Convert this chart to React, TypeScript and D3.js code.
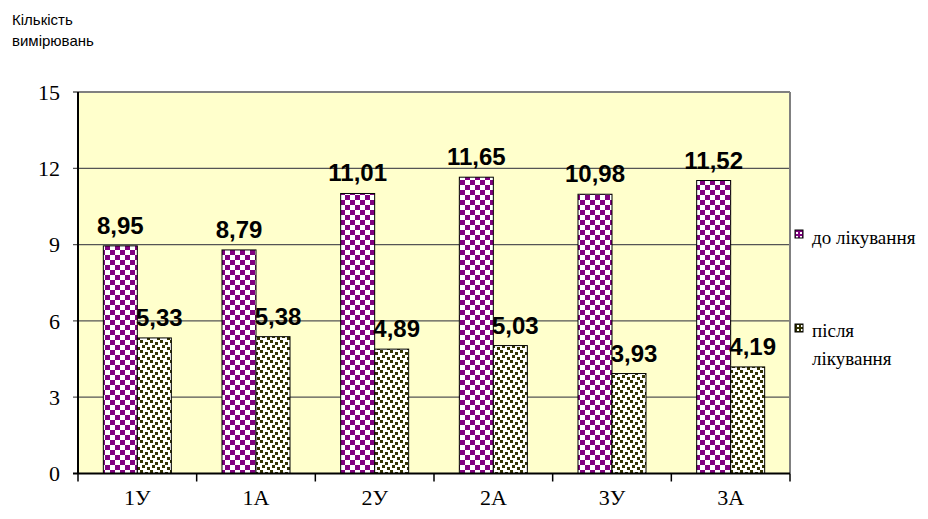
import React from 'react';
import * as d3 from 'd3';

const categories = ['1У', '1А', '2У', '2А', '3У', '3А'];
const seriesNames = ['до лікування', 'після лікування'];
const beforeValues = [8.95, 8.79, 11.01, 11.65, 10.98, 11.52];
const afterValues = [5.33, 5.38, 4.89, 5.03, 3.93, 4.19];
const yTicks = [0, 3, 6, 9, 12, 15];

const W = 928;
const H = 519;
const plot = { left: 78, right: 790, top: 92, bottom: 473.5 };

const SERIF = "'Liberation Serif', 'Times New Roman', serif";
const SANS = "'Liberation Sans', Arial, sans-serif";

const fmt = (v: number) => v.toFixed(2).replace('.', ',');

export default function App() {
  const x0 = d3.scaleBand<string>().domain(categories).range([plot.left, plot.right]).padding(0);
  const x1 = d3.scaleBand<string>()
    .domain(['before', 'after'])
    .range([0, x0.bandwidth()])
    .paddingInner(0)
    .paddingOuter(0.745);
  const y = d3.scaleLinear().domain([0, 15]).range([plot.bottom, plot.top]);

  const bw = x1.bandwidth();
  const boundaries = categories.map(c => x0(c)!).concat([plot.right]);

  return (
    <div>
      <style>{`body{margin:0}`}</style>
      <svg width={W} height={H} style={{ display: 'block', background: '#fff' }}>
        <defs>
          <pattern id="checker" width="10" height="10" patternUnits="userSpaceOnUse">
            <rect width="10" height="10" fill="#fff" />
            <rect width="5" height="5" fill="#800080" />
            <rect x="5" y="5" width="5" height="5" fill="#800080" />
          </pattern>
          <pattern id="dots" width="10" height="10" patternUnits="userSpaceOnUse">
            <rect width="10" height="10" fill="#fff" />
            <rect x="0" y="0" width="3" height="3" fill="#333300" />
            <rect x="5" y="2" width="3" height="3" fill="#333300" />
            <rect x="2" y="5" width="3" height="3" fill="#333300" />
            <rect x="7" y="7" width="3" height="3" fill="#333300" />
          </pattern>
          <pattern id="checkerSm" width="4" height="4" patternUnits="userSpaceOnUse">
            <rect width="4" height="4" fill="#800080" />
            <rect width="2" height="2" fill="#fff" />
          </pattern>
          <pattern id="dotsSm" width="4" height="4" patternUnits="userSpaceOnUse">
            <rect width="4" height="4" fill="#333300" />
            <rect x="1" y="1" width="2" height="2" fill="#fff" />
          </pattern>
        </defs>

        {/* plot background */}
        <rect x={plot.left} y={plot.top} width={plot.right - plot.left} height={plot.bottom - plot.top} fill="#FFFFCC" />

        {/* gridlines */}
        {yTicks.filter(t => t > 0).map(t => (
          <line key={t} x1={plot.left - 5} x2={plot.right} y1={y(t)} y2={y(t)}
            stroke={t === 15 ? '#808080' : '#555'} strokeWidth={t === 15 ? 2 : 1.3} />
        ))}
        <line x1={plot.right} x2={plot.right} y1={plot.top} y2={plot.bottom} stroke="#808080" strokeWidth={2} />

        {/* y tick labels */}
        {yTicks.map(t => (
          <text key={t} x={60} y={y(t)} dy="0.35em" textAnchor="end"
            style={{ fontFamily: SERIF, fontSize: 22 }}>{t}</text>
        ))}

        {/* bars */}
        {categories.map((c, i) => {
          const bx = x0(c)!;
          const xb = bx + x1('before')!;
          const xa = bx + x1('after')!;
          return (
            <g key={c}>
              <rect x={xb} y={y(beforeValues[i])} width={bw} height={y(0) - y(beforeValues[i])}
                fill="url(#checker)" stroke="#000" strokeWidth={1} />
              <rect x={xa} y={y(afterValues[i])} width={bw} height={y(0) - y(afterValues[i])}
                fill="url(#dots)" stroke="#000" strokeWidth={1} />
              <text x={xb + bw / 2} y={y(beforeValues[i]) - 12} textAnchor="middle"
                style={{ fontFamily: SANS, fontWeight: 'bold', fontSize: 24 }}>{fmt(beforeValues[i])}</text>
              <text x={xa + bw / 2 + 5} y={y(afterValues[i]) - 12} textAnchor="middle"
                style={{ fontFamily: SANS, fontWeight: 'bold', fontSize: 24 }}>{fmt(afterValues[i])}</text>
              <text x={bx + x0.bandwidth() / 2} y={505} textAnchor="middle"
                style={{ fontFamily: SERIF, fontSize: 22 }}>{c}</text>
            </g>
          );
        })}

        {/* axes */}
        <line x1={plot.left} x2={plot.left} y1={plot.top} y2={plot.bottom} stroke="#000" strokeWidth={2} />
        <line x1={plot.left - 5} x2={plot.right} y1={plot.bottom} y2={plot.bottom} stroke="#000" strokeWidth={2} />
        {boundaries.map((b, i) => (
          <line key={i} x1={b} x2={b} y1={plot.bottom} y2={plot.bottom + 8} stroke="#000" strokeWidth={1.5} />
        ))}

        {/* axis title */}
        <g style={{ fontFamily: SANS, fontSize: 15 }}>
          <text x={12} y={25}>Кількість</text>
          <text x={12} y={46}>вимірювань</text>
        </g>

        {/* legend */}
        <g style={{ fontFamily: SERIF, fontSize: 19 }}>
          <rect x={795} y={230} width={8} height={8} fill="url(#checkerSm)" stroke="#000" strokeWidth={1} />
          <text x={812} y={244}>{seriesNames[0]}</text>
          <rect x={795} y={324} width={8} height={8} fill="url(#dotsSm)" stroke="#000" strokeWidth={1} />
          <text x={812} y={337}>після</text>
          <text x={812} y={365}>лікування</text>
        </g>
      </svg>
    </div>
  );
}
